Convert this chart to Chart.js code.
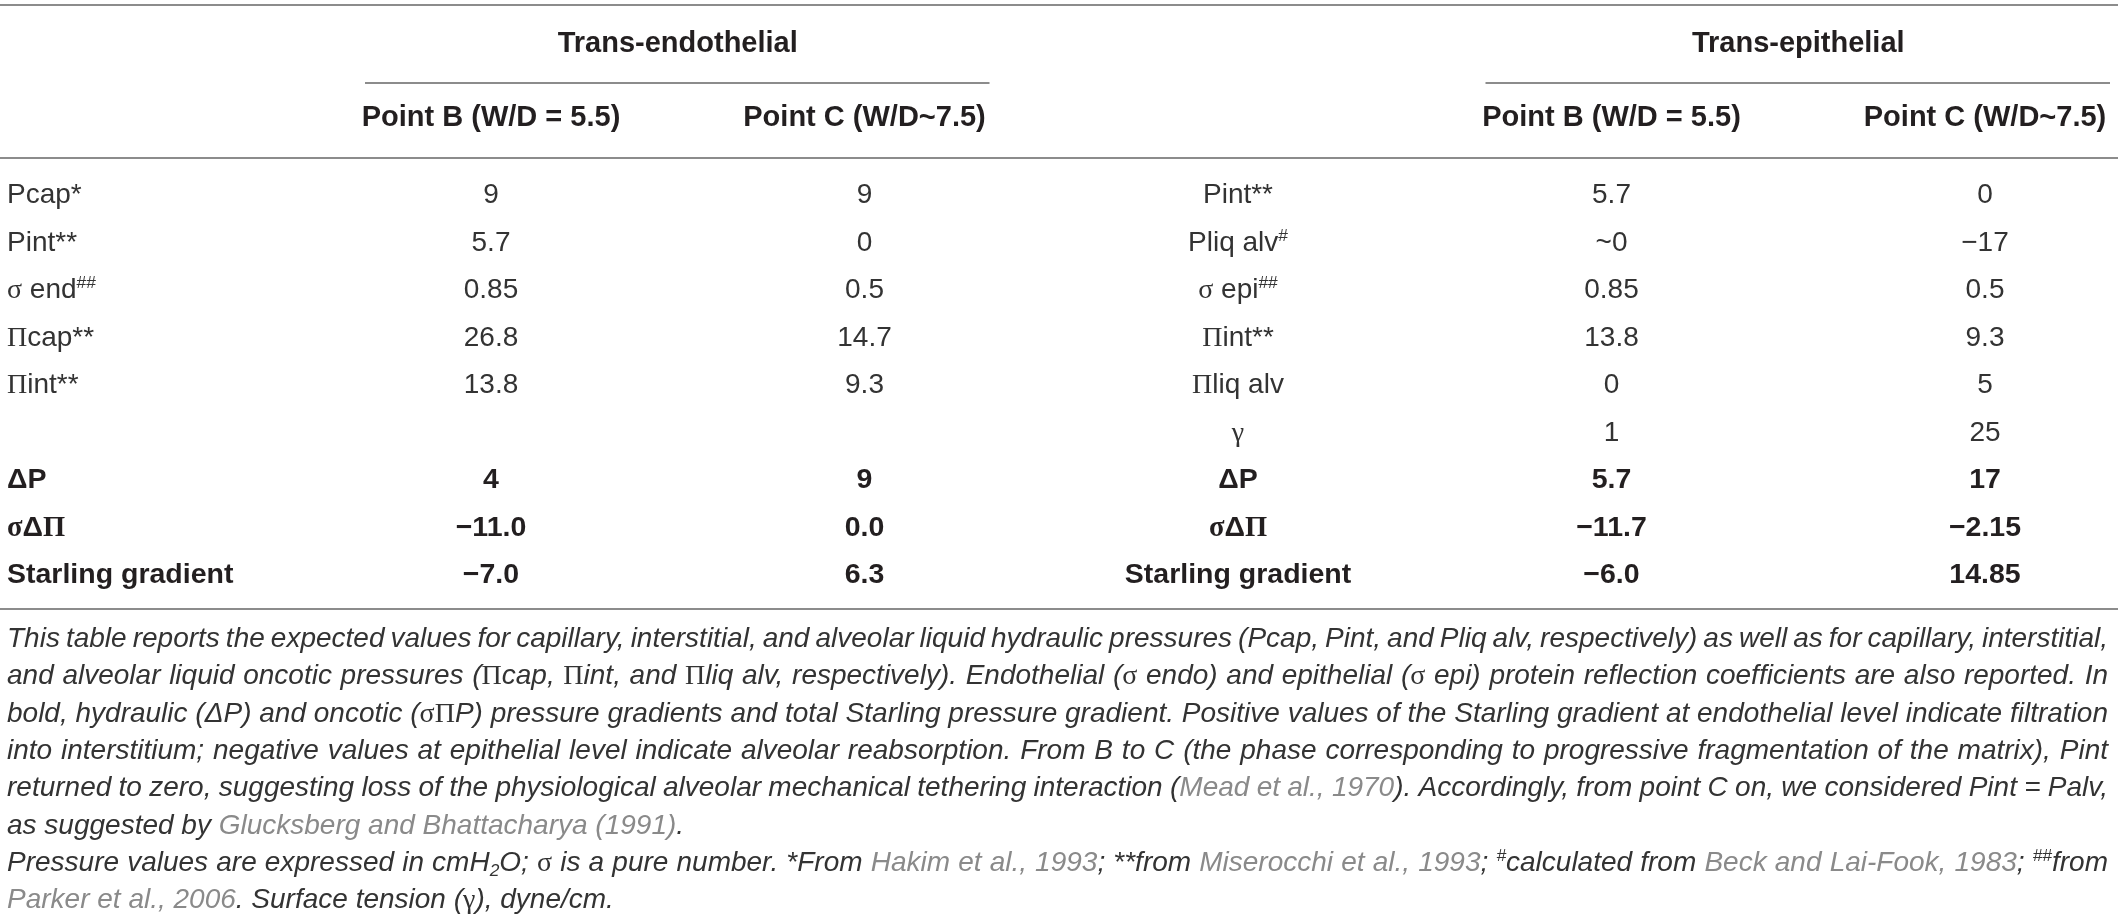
<!DOCTYPE html>
<html>
<head>
<meta charset="utf-8">
<script src="https://cdn.jsdelivr.net/npm/chart.js@4/dist/chart.umd.min.js"></script>
<style>
  html, body { margin: 0; padding: 0; background: #fff; }
  #table { display: block; }
</style>
</head>
<body>
<canvas id="table" width="2118" height="918"></canvas>
<script>
// markup: ^..^ superscript, _.._ subscript, {..} reference link (grey)
const rowKeys = ['Pcap', 'Pint', 'sigma', 'PiCap', 'PiInt', 'gamma', 'dP', 'sigmaDPi', 'starling'];
const groupTitles = ['Trans-endothelial', 'Trans-epithelial'];
const columnTitles = ['Point B (W/D = 5.5)', 'Point C (W/D~7.5)', 'Point B (W/D = 5.5)', 'Point C (W/D~7.5)'];

const endoLabels = ['Pcap*', 'Pint**', 'σ end^##^', 'Πcap**', 'Πint**', '', 'ΔP', 'σΔΠ', 'Starling gradient'];
const endoPointB = ['9', '5.7', '0.85', '26.8', '13.8', '', '4', '−11.0', '−7.0'];
const endoPointC = ['9', '0', '0.5', '14.7', '9.3', '', '9', '0.0', '6.3'];

const epiLabels = ['Pint**', 'Pliq alv^#^', 'σ epi^##^', 'Πint**', 'Πliq alv', 'γ', 'ΔP', 'σΔΠ', 'Starling gradient'];
const epiPointB = ['5.7', '~0', '0.85', '13.8', '0', '1', '5.7', '−11.7', '−6.0'];
const epiPointC = ['0', '−17', '0.5', '9.3', '5', '25', '17', '−2.15', '14.85'];

const boldRows = ['dP', 'sigmaDPi', 'starling'];

const captionLines = [
    'This table reports the expected values for capillary, interstitial, and alveolar liquid hydraulic pressures (Pcap, Pint, and Pliq alv, respectively) as well as for capillary, interstitial,',
    'and alveolar liquid oncotic pressures (Πcap, Πint, and Πliq alv, respectively). Endothelial (σ endo) and epithelial (σ epi) protein reflection coefficients are also reported. In',
    'bold, hydraulic (ΔP) and oncotic (σΠP) pressure gradients and total Starling pressure gradient. Positive values of the Starling gradient at endothelial level indicate filtration',
    'into interstitium; negative values at epithelial level indicate alveolar reabsorption. From B to C (the phase corresponding to progressive fragmentation of the matrix), Pint',
    'returned to zero, suggesting loss of the physiological alveolar mechanical tethering interaction ({Mead et al., 1970}). Accordingly, from point C on, we considered Pint = Palv,',
    'as suggested by {Glucksberg and Bhattacharya (1991)}.',
    'Pressure values are expressed in cmH_2_O; σ is a pure number. *From {Hakim et al., 1993}; **from {Miserocchi et al., 1993}; ^#^calculated from {Beck and Lai-Fook, 1983}; ^##^from',
    '{Parker et al., 2006}. Surface tension (γ), dyne/cm.'
];
const justifiedLines = [true, true, true, true, true, false, true, false];

const SANS = '"Liberation Sans", Arial, Helvetica, sans-serif';
const SERIF = '"Liberation Serif", "Times New Roman", serif';
const GREEK = 'σΠγ';
const INK = '#231f20';
const INK_LIGHT = '#333333';
const LINK = '#8a8a8a';
const RULE = '#8c8c8c';

function parseRich(str) {
    const runs = [];
    let sup = false, sub = false, link = false;
    let cur = { t: '', sup, sub, link };
    const flush = () => { if (cur.t) runs.push(cur); cur = { t: '', sup, sub, link }; };
    for (const ch of str) {
        if (ch === '^') { flush(); sup = !sup; cur.sup = sup; continue; }
        if (ch === '_') { flush(); sub = !sub; cur.sub = sub; continue; }
        if (ch === '{') { flush(); link = true; cur.link = true; continue; }
        if (ch === '}') { flush(); link = false; cur.link = false; continue; }
        if (ch === ' ' || GREEK.includes(ch)) {
            flush();
            runs.push({ t: ch, sup, sub, link, space: ch === ' ', serif: GREEK.includes(ch) });
            continue;
        }
        cur.t += ch;
    }
    flush();
    return runs;
}

function runFont(run, base) {
    const small = run.sup || run.sub;
    const size = small ? base.size * 0.62 : base.size;
    const family = run.serif ? SERIF : SANS;
    const style = run.serif ? 'normal' : base.style;
    return `${style} ${base.weight} ${size}px ${family}`;
}

function measureRich(ctx, runs, base, extra) {
    let w = 0;
    runs.forEach(run => {
        ctx.font = runFont(run, base);
        w += ctx.measureText(run.t).width + (run.space ? extra : 0);
    });
    return w;
}

// draws marked-up text with its vertical centre at y
function drawRich(ctx, str, x, y, align, base, targetWidth) {
    const runs = parseRich(str);
    let extra = 0;
    if (targetWidth) {
        const spaces = runs.filter(r => r.space).length;
        const natural = measureRich(ctx, runs, base, 0);
        if (spaces) extra = (targetWidth - natural) / spaces;
    }
    const width = measureRich(ctx, runs, base, extra);
    let cx = align === 'center' ? x - width / 2 : x;
    const baseline = y + base.size * 0.36;
    ctx.textAlign = 'left';
    ctx.textBaseline = 'alphabetic';
    runs.forEach(run => {
        ctx.font = runFont(run, base);
        ctx.fillStyle = run.link ? LINK : (base.color || INK);
        let by = baseline;
        if (run.sup) by -= base.size * 0.36;
        if (run.sub) by += base.size * 0.2;
        ctx.fillText(run.t, cx, by);
        cx += ctx.measureText(run.t).width + (run.space ? extra : 0);
    });
}

const REGULAR = { size: 28, weight: 'normal', style: 'normal', color: INK_LIGHT };
const BOLD = { size: 28.5, weight: 'bold', style: 'normal' };
const HEAD = { size: 29, weight: 'bold', style: 'normal' };
const CAPTION = { size: 28, weight: 'normal', style: 'italic', color: INK_LIGHT };

function cells(colKey, texts) {
    return texts.map((t, i) => ({ x: colKey, y: rowKeys[i], text: t })).filter(c => c.text !== '');
}

const tablePlugin = {
    id: 'tableText',
    afterDatasetsDraw(chart) {
        const ctx = chart.ctx;
        const xs = chart.scales.x;
        const ys = chart.scales.y;
        ctx.save();

        // rules
        ctx.strokeStyle = RULE;
        ctx.lineWidth = 2;
        const hline = (x0, x1, y) => { ctx.beginPath(); ctx.moveTo(x0, y); ctx.lineTo(x1, y); ctx.stroke(); };
        hline(0, chart.width, 5);
        hline(0, chart.width, 158);
        hline(0, chart.width, 609);

        // group headers over their two columns
        const groupCols = [['B1', 'C1'], ['B2', 'C2']];
        groupCols.forEach((pair, g) => {
            const a = xs.getPixelForValue(xs.parse(pair[0]));
            const b = xs.getPixelForValue(xs.parse(pair[1]));
            drawRich(ctx, groupTitles[g], (a + b) / 2, 42, 'center', HEAD);
            hline(a - 126, b + 125, 83);
        });

        // column headers
        ['B1', 'C1', 'B2', 'C2'].forEach((key, i) => {
            drawRich(ctx, columnTitles[i], xs.getPixelForValue(xs.parse(key)), 116, 'center', HEAD);
        });

        // left label column
        endoLabels.forEach((label, i) => {
            if (!label) return;
            const style = boldRows.includes(rowKeys[i]) ? BOLD : REGULAR;
            drawRich(ctx, label, 7, ys.getPixelForValue(i), 'left', style);
        });

        // cells placed by the scatter elements
        chart.data.datasets.forEach((ds, di) => {
            const meta = chart.getDatasetMeta(di);
            meta.data.forEach((el, j) => {
                const cell = ds.data[j];
                const style = boldRows.includes(cell.y) ? BOLD : REGULAR;
                drawRich(ctx, cell.text, el.x, el.y, 'center', style);
            });
        });

        // caption
        captionLines.forEach((line, i) => {
            const target = justifiedLines[i] ? 2101 : null;
            drawRich(ctx, line, 7, 637 + i * 37.3, 'left', CAPTION, target);
        });

        ctx.restore();
    }
};

new Chart(document.getElementById('table'), {
    type: 'scatter',
    data: {
        datasets: [
            { label: 'Trans-endothelial Point B', data: cells('B1', endoPointB) },
            { label: 'Trans-endothelial Point C', data: cells('C1', endoPointC) },
            { label: 'Trans-epithelial label', data: cells('labelR', epiLabels) },
            { label: 'Trans-epithelial Point B', data: cells('B2', epiPointB) },
            { label: 'Trans-epithelial Point C', data: cells('C2', epiPointC) }
        ]
    },
    options: {
        responsive: false,
        animation: false,
        devicePixelRatio: 1,
        events: [],
        layout: { padding: { left: 491, right: 133, top: 193, bottom: 345 } },
        elements: { point: { radius: 0, hoverRadius: 0 } },
        plugins: { legend: { display: false }, tooltip: { enabled: false } },
        scales: {
            x: { type: 'category', labels: ['B1', 'C1', 'labelR', 'B2', 'C2'], offset: false, display: false },
            y: { type: 'category', labels: rowKeys, offset: false, display: false }
        }
    },
    plugins: [tablePlugin]
});
</script>
</body>
</html>
